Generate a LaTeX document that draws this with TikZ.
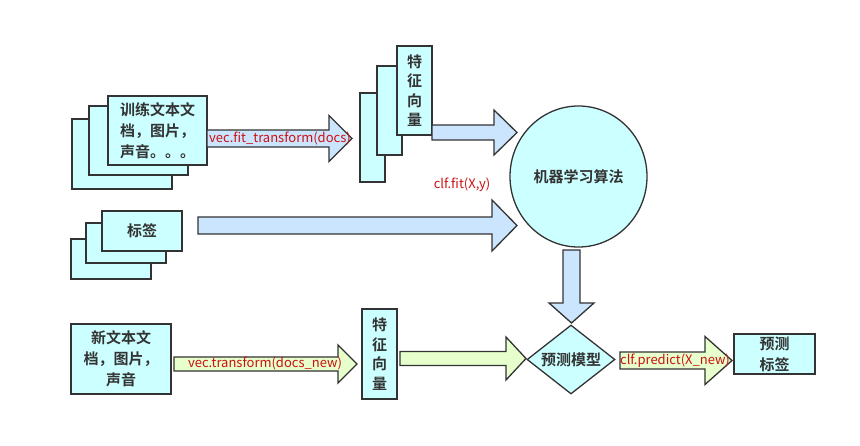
\documentclass[tikz,border=0pt]{standalone}
\usepackage{fontspec}
\newfontfamily\cjk{Noto Sans CJK SC}
\newfontfamily\cjkb{Noto Sans CJK SC Bold}
\usetikzlibrary{shapes.geometric}
\definecolor{boxfill}{HTML}{CCFFFF}
\definecolor{bluearrow}{HTML}{CCE5FF}
\definecolor{greenarrow}{HTML}{E6FFCC}
\definecolor{edge}{HTML}{333333}
\definecolor{labred}{HTML}{CC1111}
\tikzset{
  box/.style={draw=edge, fill=boxfill, line width=1.3pt, inner sep=0pt, font=\cjkb\fontsize{15}{21}\selectfont, text=edge, align=center},
  barrowb/.style={draw=edge, fill=bluearrow, line width=1.3pt, line join=miter},
  barrowg/.style={draw=edge, fill=greenarrow, line width=1.3pt, line join=miter},
  redlab/.style={text=labred, font=\cjk\fontsize{13}{15}\selectfont, inner sep=0pt},
}
% horizontal block arrow: #1 style, #2 x start, #3 head base x, #4 tip x, #5 y centre, #6 half shaft, #7 half head
\newcommand\hblock[7]{\draw[#1] (#2,#5-#6) -- (#3,#5-#6) -- (#3,#5-#7) -- (#4,#5) -- (#3,#5+#7) -- (#3,#5+#6) -- (#2,#5+#6) -- cycle;}
\begin{document}
\begin{tikzpicture}[x=1pt,y=-1pt]
\useasboundingbox (0,0) rectangle (860,445);
% training documents stack
\node[box, minimum width=100pt, minimum height=70pt] (d3) at (122,154) {};
\node[box, minimum width=99pt, minimum height=69pt] (d2) at (138.5,140.5) {};
\node[box, minimum width=99pt, minimum height=69pt] (d1) at (157.5,130.5) {训练文本文\\档，图片，\\声音。。。};
% label stack
\node[box, minimum width=80pt, minimum height=40pt] (l3) at (111,259) {};
\node[box, minimum width=80pt, minimum height=40pt] (l2) at (126,243) {};
\node[box, minimum width=80pt, minimum height=40pt] (l1) at (142,231) {标签};
% feature vector stack (top)
\node[box, minimum width=25pt, minimum height=89pt] (f3) at (372.5,137.5) {};
\node[box, minimum width=25pt, minimum height=89pt] (f2) at (389.5,110.5) {};
\node[box, minimum width=35pt, minimum height=89pt, font=\cjkb\fontsize{15}{19.5}\selectfont] (f1) at (414.5,90.5) {特\\征\\向\\量};
% ML algorithm
\node[ellipse, draw=edge, fill=boxfill, line width=1.3pt, minimum width=137pt, minimum height=141pt, inner sep=0pt, font=\cjkb\fontsize{15}{18}\selectfont, text=edge] (ml) at (578.5,176.5) {机器学习算法};
% new documents
\node[box, minimum width=100pt, minimum height=70pt] (nd) at (121,359) {新文本文\\档，图片，\\声音};
% feature vector (bottom)
\node[box, minimum width=35pt, minimum height=90pt, font=\cjkb\fontsize{15}{19.5}\selectfont] (fb) at (379.5,354) {特\\征\\向\\量};
% prediction model
\node[diamond, draw=edge, fill=boxfill, line width=1.3pt, minimum width=88pt, minimum height=69pt, inner sep=0pt, aspect=1.28, font=\cjkb\fontsize{15}{18}\selectfont, text=edge] (pm) at (571,359.5) {预测模型};
% predicted label
\node[box, minimum width=81pt, minimum height=40pt] (pl) at (774.5,354) {预测\\标签};
% block arrows
\hblock{barrowb}{207}{329}{352}{138.5}{8.5}{23}
\hblock{barrowb}{432}{494}{517}{132.5}{7.5}{22.5}
\hblock{barrowb}{198}{492}{517}{225.5}{8.5}{25.5}
\hblock{barrowg}{174}{338}{357}{364}{7}{19}
\hblock{barrowg}{400}{506}{526}{358.5}{7}{21.5}
\hblock{barrowg}{620}{705}{732}{360.5}{8.5}{24}
\draw[barrowb] (563,250) -- (563,303) -- (549,303) -- (571.5,323) -- (594,303) -- (580,303) -- (580,250) -- cycle;
% labels
\node[redlab] (t1) at (280,138) {vec.fit\_transform(docs)};
\node[redlab] (t2) at (462,185) {clf.fit(X,y)};
\node[redlab] (t3) at (265,363) {vec.transform(docs\_new)};
\node[redlab] (t4) at (675,361) {clf.predict(X\_new)};
\end{tikzpicture}
\end{document}
